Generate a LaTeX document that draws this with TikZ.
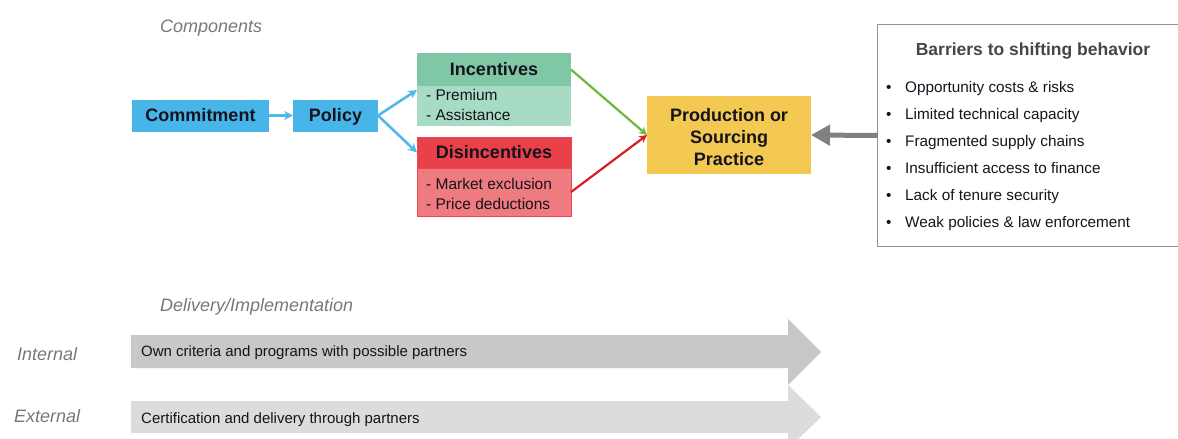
\documentclass[tikz,border=0pt]{standalone}
\usepackage{fontspec}
\setmainfont{Liberation Sans}
\usetikzlibrary{arrows.meta}
\definecolor{cblue}{RGB}{72,181,233}
\definecolor{ablue}{RGB}{80,185,235}
\definecolor{ghead}{RGB}{128,199,165}
\definecolor{gbody}{RGB}{168,219,195}
\definecolor{rhead}{RGB}{233,64,74}
\definecolor{rbody}{RGB}{239,122,128}
\definecolor{rline}{RGB}{232,70,80}
\definecolor{cyel}{RGB}{244,201,82}
\definecolor{agreen}{RGB}{106,184,62}
\definecolor{ared}{RGB}{218,30,34}
\definecolor{agray}{RGB}{128,128,128}
\definecolor{lbl}{RGB}{120,120,120}
\definecolor{band1}{RGB}{200,200,200}
\definecolor{band2}{RGB}{220,220,220}
\definecolor{ttl}{RGB}{70,70,70}
\definecolor{txt}{RGB}{20,20,30}
\tikzset{
  bx/.style={inner sep=0pt, outer sep=0pt, text=txt, font=\bfseries\fontsize{18}{22}\selectfont, align=center},
  oneline/.style={text height=12.9pt, text depth=0pt},
  lst/.style={inner sep=0pt, anchor=west, align=left, text=txt, font=\fontsize{15.5}{20}\selectfont},
  italbl/.style={inner sep=0pt, anchor=base west, text=lbl, font=\itshape\fontsize{18}{20}\selectfont},
  blue arr/.style={draw=ablue, line width=2.6pt, -{Stealth[length=9pt,width=9pt]}},
  barrtxt/.style={inner sep=0pt, anchor=base west, text=txt, font=\fontsize{15.3}{18}\selectfont},
}
\begin{document}
\begin{tikzpicture}[x=1pt,y=-1pt]
\useasboundingbox (0,0) rectangle (1178,439);
% section labels
\node[italbl] (comp) at (160,32) {Components};
\node[italbl] (deliv) at (160,311.5) {Delivery/Implementation};
% main flow
\node[bx, oneline, fill=cblue, minimum width=137pt, minimum height=32pt] (com) at (200.5,115.5) {Commitment};
\node[bx, oneline, fill=cblue, minimum width=85pt, minimum height=32pt] (pol) at (335.5,115.5) {Policy};
\node[bx, oneline, fill=ghead, minimum width=154pt, minimum height=33pt] (inc) at (494,69.5) {Incentives};
\node[bx, fill=gbody, minimum width=154pt, minimum height=40pt] (incb) at (494,106) {};
\node[lst] (incl) at (426,104.5) {- Premium\\- Assistance};
\node[bx, oneline, fill=rhead, draw=rline, line width=1pt, minimum width=154pt, minimum height=31pt] (dis) at (494,152.5) {Disincentives};
\node[bx, fill=rbody, draw=rline, line width=1pt, minimum width=154pt, minimum height=48pt] (disb) at (494,192) {};
\node[lst] (disl) at (426,193.5) {- Market exclusion\\- Price deductions};
\node[bx, fill=cyel, minimum width=164pt, minimum height=78pt] (prod) at (729,135) {};
\node[bx] (prodt) at (729,137) {Production or\\Sourcing\\Practice};
% barriers box
\node[inner sep=0pt, minimum width=300pt, minimum height=221pt] (bar) at (1028,135.5) {};
\draw[agray!85, line width=1.3pt] (bar.north east) -- (bar.north west) -- (bar.south west) -- (bar.south east);
\node[inner sep=0pt, anchor=base, text=ttl, font=\bfseries\fontsize{17.5}{20}\selectfont] (bart) at (1033,55.5) {Barriers to shifting behavior};
\foreach \t [count=\i] in {Opportunity costs \& risks, Limited technical capacity, Fragmented supply chains, Insufficient access to finance, Lack of tenure security, Weak policies \& law enforcement}{
  \node[barrtxt] (bl\i) at (886,{92.5+27*(\i-1)}) {•};
  \node[barrtxt] (b\i) at (905,{92.5+27*(\i-1)}) {\t};
}
% connectors
\draw[blue arr] (com) -- (pol);
\draw[blue arr] (pol.east) -- ([yshift=-4pt]inc.south west);
\draw[blue arr] (pol.east) -- (dis.west);
\draw[agreen, line width=2.2pt, -{Stealth[length=8pt,width=8pt]}] (inc.east) -- (prod.west);
\draw[ared, line width=2.2pt, -{Stealth[length=8pt,width=8pt]}] (disb.east) -- (prod.west);
\draw[agray, line width=5pt, -{Triangle[length=19pt,width=20pt]}] (bar.west) -- (prod.east);
% delivery arrows
\fill[band1] (131,335) -- (788,335) -- (788,319) -- (821,352) -- (788,385) -- (788,368) -- (131,368) -- cycle;
\fill[band2] (131,401) -- (788,401) -- (788,385) -- (821,417) -- (788,449) -- (788,433) -- (131,433) -- cycle;
\node[italbl] (intl) at (17,360) {Internal};
\node[italbl] (extl) at (14,422) {External};
\node[barrtxt, font=\fontsize{15}{18}\selectfont] (own) at (141,356.5) {Own criteria and programs with possible partners};
\node[barrtxt, font=\fontsize{15}{18}\selectfont] (cert) at (141,423.5) {Certification and delivery through partners};
\end{tikzpicture}
\end{document}
